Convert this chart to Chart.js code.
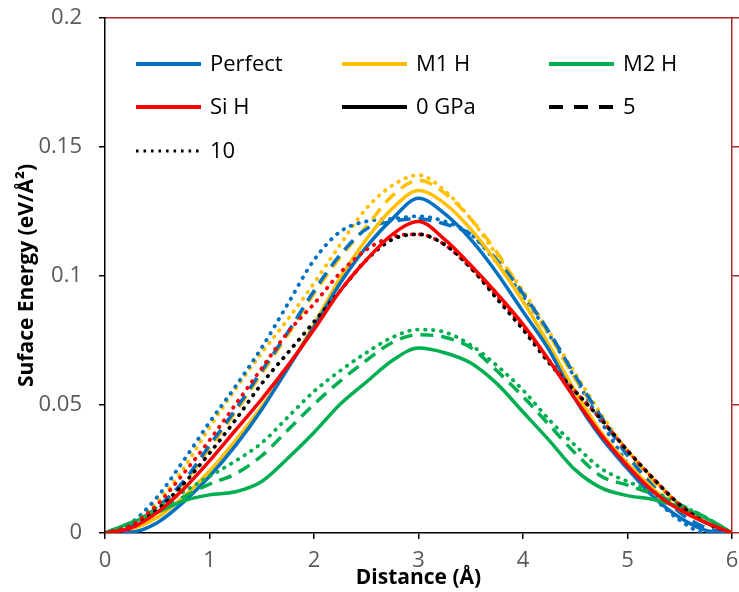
<!DOCTYPE html>
<html>
<head>
<meta charset="utf-8">
<script src="https://cdn.jsdelivr.net/npm/chart.js@4/dist/chart.umd.min.js"></script>
<style>
  html, body { margin: 0; padding: 0; background: #fff; }
  #wrap { width: 739px; height: 592px; }
</style>
</head>
<body>
<div id="wrap"><canvas id="energyChart" width="739" height="592"></canvas></div>
<script>
// distance along the path (Å)
const distance = [0, 0.25, 0.5, 0.75, 1, 1.25, 1.5, 1.75, 2, 2.25, 2.5, 2.75, 3,
                  3.25, 3.5, 3.75, 4, 4.25, 4.5, 4.75, 5, 5.25, 5.5, 5.75, 6];

// surface energy (eV/Å²)
const perfect0  = [0, 0.0003, 0.004, 0.012, 0.022, 0.034, 0.048, 0.064, 0.080, 0.097, 0.111, 0.122, 0.130,
                   0.124, 0.114, 0.101, 0.086, 0.071, 0.052, 0.037, 0.025, 0.014, 0.006, 0.001, 0];
const perfect5  = [0, 0.003, 0.010, 0.020, 0.034, 0.048, 0.063, 0.078, 0.094, 0.108, 0.118, 0.121, 0.122,
                   0.120, 0.116, 0.106, 0.093, 0.078, 0.061, 0.045, 0.030, 0.018, 0.008, 0.002, 0];
const perfect10 = [0, 0.004, 0.014, 0.028, 0.043, 0.057, 0.072, 0.089, 0.106, 0.117, 0.121, 0.122, 0.123,
                   0.121, 0.116, 0.105, 0.092, 0.077, 0.060, 0.043, 0.027, 0.014, 0.005, 0, 0];

const m1h0  = [0, 0.0015, 0.006, 0.014, 0.024, 0.036, 0.049, 0.064, 0.081, 0.099, 0.114, 0.126, 0.133,
               0.128, 0.118, 0.105, 0.090, 0.073, 0.055, 0.039, 0.027, 0.017, 0.009, 0.004, 0];
const m1h5  = [0, 0.003, 0.010, 0.019, 0.033, 0.047, 0.062, 0.077, 0.093, 0.107, 0.119, 0.131, 0.137,
               0.132, 0.122, 0.109, 0.093, 0.077, 0.060, 0.045, 0.031, 0.020, 0.011, 0.004, 0];
const m1h10 = [0, 0.004, 0.012, 0.025, 0.041, 0.056, 0.070, 0.083, 0.097, 0.112, 0.126, 0.135, 0.139,
               0.133, 0.122, 0.108, 0.094, 0.078, 0.062, 0.046, 0.032, 0.021, 0.011, 0.004, 0];

const m2h0  = [0, 0.004, 0.008, 0.0125, 0.0148, 0.016, 0.020, 0.029, 0.039, 0.050, 0.0586, 0.067, 0.0718,
               0.070, 0.066, 0.058, 0.047, 0.036, 0.0245, 0.0175, 0.0145, 0.013, 0.010, 0.0058, 0];
const m2h5  = [0, 0.004, 0.009, 0.014, 0.019, 0.023, 0.030, 0.040, 0.050, 0.059, 0.067, 0.074, 0.077,
               0.076, 0.072, 0.063, 0.053, 0.042, 0.031, 0.022, 0.0186, 0.015, 0.011, 0.006, 0];
const m2h10 = [0, 0.004, 0.010, 0.016, 0.022, 0.028, 0.035, 0.045, 0.055, 0.063, 0.070, 0.076, 0.079,
               0.078, 0.073, 0.065, 0.0555, 0.044, 0.034, 0.025, 0.020, 0.016, 0.011, 0.006, 0];

const siH0    = [0, 0.002, 0.008, 0.017, 0.028, 0.040, 0.052, 0.065, 0.079, 0.094, 0.106, 0.116, 0.121,
                 0.114, 0.104, 0.093, 0.081, 0.067, 0.052, 0.038, 0.026, 0.016, 0.009, 0.004, 0];
const siH10   = [0, 0.003, 0.011, 0.023, 0.036, 0.050, 0.064, 0.078, 0.089, 0.101, 0.110, 0.115, 0.116,
                 0.112, 0.103, 0.092, 0.080, 0.067, 0.055, 0.044, 0.032, 0.021, 0.011, 0.004, 0];
const siHblk  = [0, 0.002, 0.009, 0.019, 0.031, 0.044, 0.058, 0.070, 0.082, 0.094, 0.106, 0.114, 0.116,
                 0.112, 0.103, 0.091, 0.079, 0.066, 0.055, 0.044, 0.032, 0.021, 0.011, 0.004, 0];

const yTicks = [0, 0.05, 0.1, 0.15, 0.2];

const BLUE = '#0070C0', GOLD = '#FFC000', GREEN = '#00B050', RED = '#FF0000', BLACK = '#000000';
const FRAME = '#A52A2A';
const FONT = "'Open Sans', 'Liberation Sans', sans-serif";

const SOLID = [];
const DASH = [13, 8];
const DOT = [0.5, 7.5];

function series(label, values, color, dash) {
    return {
        label,
        data: values.map((v, i) => ({ x: distance[i], y: v })),
        borderColor: color,
        backgroundColor: color,
        borderWidth: dash === DOT ? 3.8 : 3.5,
        borderDash: dash,
        borderCapStyle: dash === DOT ? 'round' : 'butt',
        pointRadius: 0,
        cubicInterpolationMode: 'monotone',
        fill: false,
    };
}

// first dataset ends up on top
const datasets = [
    series('Si H 0 GPa', siH0, RED, SOLID),
    series('Si H (black)', siHblk, BLACK, DOT),
    series('Si H 10', siH10, RED, DOT),
    series('M2 H 0 GPa', m2h0, GREEN, SOLID),
    series('M2 H 5', m2h5, GREEN, DASH),
    series('M2 H 10', m2h10, GREEN, DOT),
    series('Perfect 0 GPa', perfect0, BLUE, SOLID),
    series('M1 H 0 GPa', m1h0, GOLD, SOLID),
    series('Perfect 5', perfect5, BLUE, DASH),
    series('M1 H 5', m1h5, GOLD, DASH),
    series('Perfect 10', perfect10, BLUE, DOT),
    series('M1 H 10', m1h10, GOLD, DOT),
];

// legend drawn inside the plot in three columns
const legendItems = [
    { text: 'Perfect', color: BLUE,  dash: [],      col: 0, row: 0 },
    { text: 'M1 H',    color: GOLD,  dash: [],      col: 1, row: 0 },
    { text: 'M2 H',    color: GREEN, dash: [],      col: 2, row: 0 },
    { text: 'Si H',    color: RED,   dash: [],      col: 0, row: 1 },
    { text: '0 GPa',   color: BLACK, dash: [],      col: 1, row: 1 },
    { text: '5',       color: BLACK, dash: [14, 11], col: 2, row: 1 },
    { text: '10',      color: BLACK, dash: [2.6, 4.9], col: 0, row: 2 },
];

const insideLegend = {
    id: 'insideLegend',
    afterDatasetsDraw(chart) {
        const { ctx, chartArea } = chart;
        const colX = [31, 237, 444];
        const rowY = [46, 89, 133];
        ctx.save();
        ctx.font = "22px " + FONT;
        ctx.textBaseline = 'middle';
        legendItems.forEach(it => {
            const x = chartArea.left + colX[it.col];
            const y = chartArea.top + rowY[it.row];
            ctx.beginPath();
            ctx.setLineDash(it.dash);
            ctx.lineWidth = it.dash.length && it.dash[0] < 3 ? 3 : 4;
            ctx.strokeStyle = it.color;
            ctx.moveTo(x, y);
            ctx.lineTo(x + 65, y);
            ctx.stroke();
            ctx.setLineDash([]);
            ctx.fillStyle = '#000';
            ctx.fillText(it.text, x + 74, y + 1);
        });
        ctx.restore();
    }
};

// fixed box sizes so the plot area sits where it should
const fixSize = (w, h) => s => {
    if (w !== null) s.width = w;
    if (h !== null) s.height = h;
    s.paddingTop = 0; s.paddingBottom = 0;
    s.paddingLeft = 0; s.paddingRight = 0;
};

new Chart(document.getElementById('energyChart').getContext('2d'), {
    type: 'line',
    data: { datasets },
    plugins: [insideLegend],
    options: {
        responsive: false,
        animation: false,
        layout: { padding: 0 },
        plugins: {
            legend: { display: false },
            tooltip: { enabled: false },
        },
        scales: {
            x: {
                type: 'linear',
                position: 'bottom',
                min: 0, max: 6,
                afterFit: fixSize(null, 59),
                grid: { drawOnChartArea: false, drawTicks: true, tickLength: 6, color: '#000', lineWidth: 1.5 },
                border: { color: '#000', width: 1.5 },
                ticks: { stepSize: 1, padding: 9, color: '#595959', font: { family: FONT, size: 22 }, maxRotation: 0 },
                title: { display: true, text: 'Distance (Å)', color: '#000', padding: { top: 0, bottom: 1 },
                         font: { family: FONT, size: 21, weight: 'bold' } },
            },
            x2: {
                type: 'linear',
                position: 'top',
                min: 0, max: 6,
                afterFit: fixSize(null, 18),
                grid: { drawOnChartArea: false, drawTicks: false },
                border: { color: FRAME, width: 1.5 },
                ticks: { display: false },
            },
            y: {
                type: 'linear',
                position: 'left',
                min: 0, max: 0.2,
                afterFit: fixSize(105, null),
                afterBuildTicks: s => { s.ticks = yTicks.map(v => ({ value: v })); },
                grid: { drawOnChartArea: false, drawTicks: true, tickLength: 6, color: '#000', lineWidth: 1.5 },
                border: { color: '#000', width: 1.5 },
                ticks: {
                    padding: 17, color: '#595959', font: { family: FONT, size: 22 },
                    callback: v => String(+v.toFixed(2)),
                },
                title: { display: true, text: 'Suface Energy (eV/Å²)', color: '#000', padding: { top: 14, bottom: 0 },
                         font: { family: FONT, size: 21, weight: 'bold' } },
            },
            y2: {
                type: 'linear',
                position: 'right',
                min: 0, max: 0.2,
                afterFit: fixSize(7, null),
                afterBuildTicks: s => { s.ticks = yTicks.map(v => ({ value: v })); },
                grid: { drawOnChartArea: false, drawTicks: true, tickLength: 7, color: FRAME, lineWidth: 1.5 },
                border: { color: FRAME, width: 1.5 },
                ticks: { display: false },
            },
        },
    },
});
</script>
</body>
</html>
